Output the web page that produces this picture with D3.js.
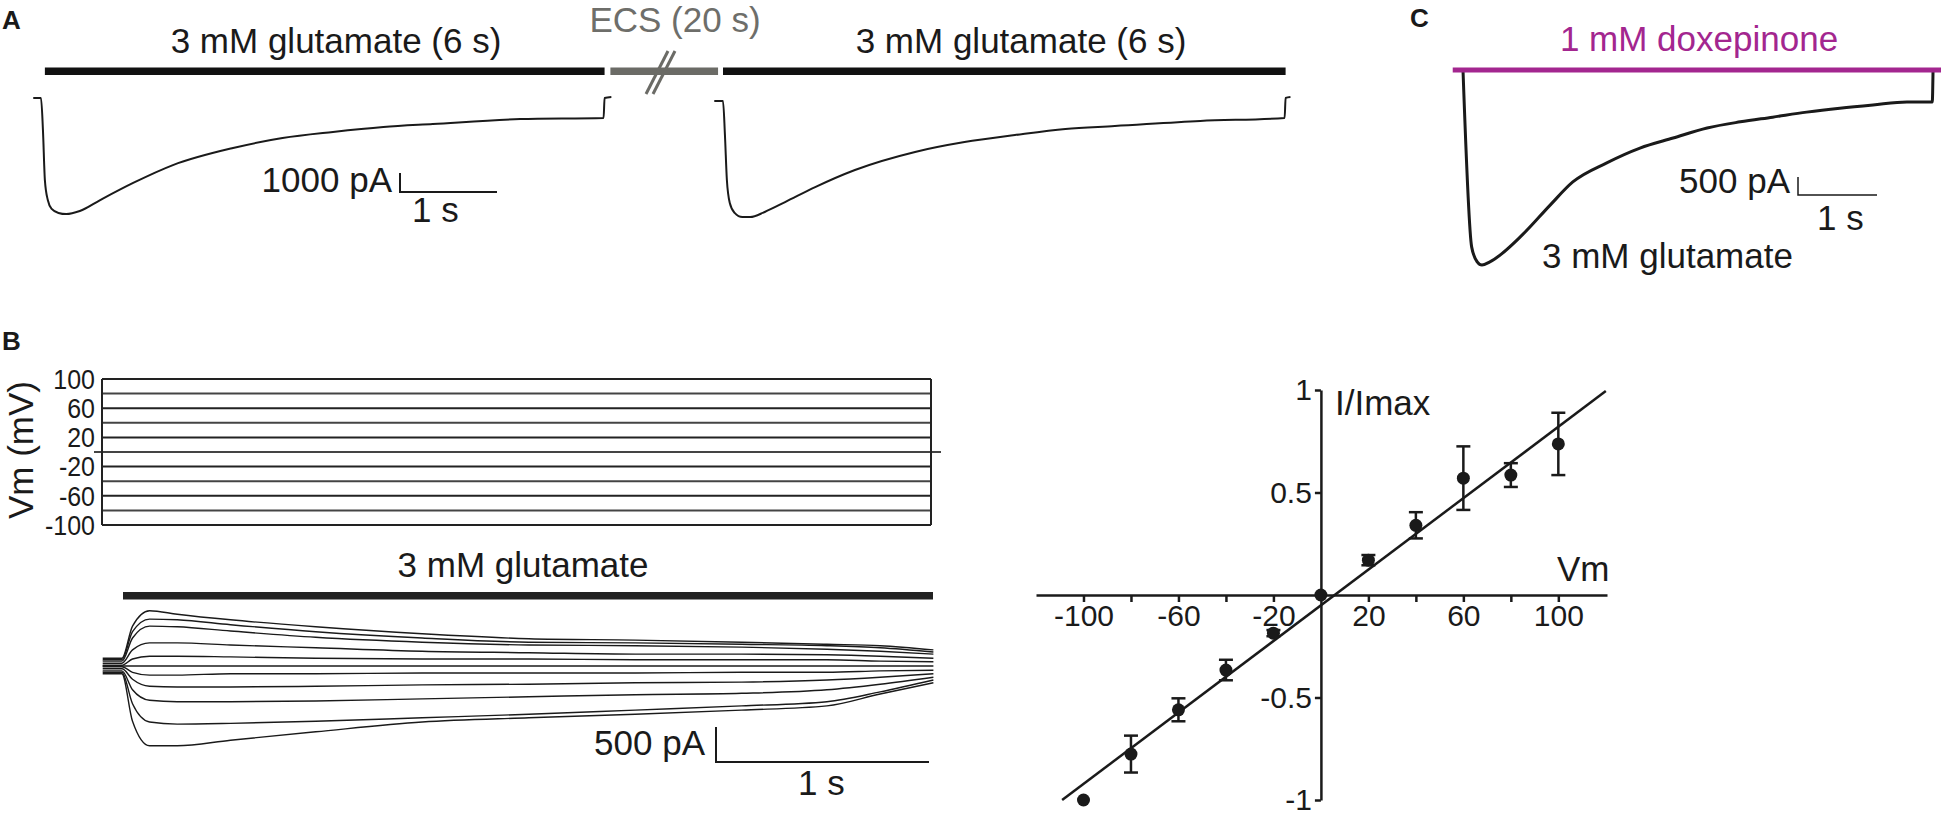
<!DOCTYPE html>
<html>
<head>
<meta charset="utf-8">
<script src="https://cdn.jsdelivr.net/npm/d3@7/dist/d3.min.js"></script>
<style>
body { margin: 0; background: #fff; }
text { font-family: "Liberation Sans", Arial, sans-serif; fill: #1a1a1a; }
</style>
</head>
<body>
<div id="chart"></div>
<script>
// ---- Panel A: two glutamate responses (time in s, current in pA)
const aTime1 = [-0.08, 0, 0.02, 0.04, 0.07, 0.11, 0.18, 0.26, 0.40, 0.61, 0.95, 1.36, 1.98, 2.49, 3.01, 3.53, 4.04, 4.94, 5.80, 5.81, 5.88];
const aCurrent1 = [0, 0, -1680, -4320, -5370, -5840, -6050, -6110, -5950, -5370, -4470, -3530, -2630, -2110, -1790, -1530, -1370, -1110, -1050, 0, 50];
const aTime2 = [-0.09, 0, 0.02, 0.04, 0.07, 0.12, 0.20, 0.28, 0.43, 0.64, 0.95, 1.36, 1.98, 2.49, 3.01, 3.53, 4.04, 4.92, 5.79, 5.80, 5.85];
const aCurrent2 = [0, 0, -1790, -4160, -5370, -5890, -6110, -6110, -5840, -5320, -4530, -3630, -2680, -2160, -1790, -1470, -1320, -1050, -890, 160, 210];

// ---- Panel C: glutamate vs doxepinone
const cTime = [0, 0.11, 0.18, 0.24, 0.34, 0.76, 1.10, 1.39, 1.82, 2.24, 2.66, 3.09, 3.51, 3.92, 4.35, 4.77, 5.19, 5.62, 5.94, 5.95];
const cCurrent = [0, -4920, -5330, -5420, -5330, -4560, -3760, -3110, -2580, -2170, -1890, -1610, -1440, -1310, -1170, -1060, -970, -890, -890, 0];
const doxTime = [-0.13, 6.08];
const doxCurrent = [0, 0];

// ---- Panel B: voltage steps and currents
const vSteps = [100, 80, 60, 40, 20, 0, -20, -40, -60, -80, -100];
const vLabels = [100, 60, 20, -20, -60, -100];
const bTime = [-0.1, -0.01, 0.04, 0.12, 0.25, 0.5, 0.9, 1.4, 1.9, 2.4, 2.9, 3.3, 3.55, 3.8];
const bSweeps = [
  [110, 110, 570, 790, 740, 660, 560, 460, 390, 370, 340, 310, 290, 230],
  [90, 90, 490, 670, 660, 590, 490, 400, 340, 330, 310, 290, 260, 200],
  [70, 70, 400, 570, 560, 500, 410, 340, 300, 290, 270, 240, 210, 170],
  [40, 40, 230, 330, 330, 300, 260, 210, 190, 170, 170, 160, 140, 110],
  [10, 10, 100, 140, 140, 130, 110, 100, 100, 90, 90, 90, 70, 60],
  [0, 0, 0, 0, 0, 0, 0, 0, 0, 0, 0, 0, 0, 0],
  [-10, -10, -90, -130, -130, -110, -110, -100, -100, -100, -90, -90, -70, -60],
  [-40, -40, -190, -290, -300, -300, -290, -270, -260, -240, -230, -200, -160, -110],
  [-70, -70, -340, -490, -510, -510, -500, -470, -440, -410, -390, -340, -260, -160],
  [-90, -90, -540, -800, -830, -820, -790, -740, -690, -630, -570, -510, -370, -200],
  [-110, -110, -790, -1140, -1140, -1060, -940, -800, -740, -690, -630, -570, -400, -240]
];

// ---- Panel B right: I-V relation
const ivVm = [-100, -80, -60, -40, -20, 0, 20, 40, 60, 80, 100];
const ivMean = [-1.0, -0.776, -0.56, -0.366, -0.186, 0, 0.17, 0.34, 0.57, 0.585, 0.737];
const ivSem = [0, 0.09, 0.056, 0.05, 0.015, 0, 0.025, 0.064, 0.155, 0.058, 0.152];
const fitVm = [-109, 120];
const fitI = [-1.0, 0.995];
const ivTicksX = [-100, -80, -60, -40, -20, 20, 40, 60, 80, 100];
const ivLabelsX = [-100, -60, -20, 20, 60, 100];
const ivTicksY = [-1, -0.5, 0.5, 1];

const svg = d3.select("#chart").append("svg")
    .attr("width", 1941)
    .attr("height", 819);

const ink = "#1a1a1a";
const curve = d3.curveMonotoneX;

function label(x, y, txt, size, anchor, color) {
    return svg.append("text")
        .attr("x", x).attr("y", y)
        .attr("font-size", size)
        .attr("text-anchor", anchor || "start")
        .style("fill", color || ink)
        .text(txt);
}

// panel letters
label(2, 29, "A", 26).attr("font-weight", "bold");
label(2, 350, "B", 26).attr("font-weight", "bold");
label(1410, 27, "C", 26).attr("font-weight", "bold");

// ================= Panel A =================
const xA1 = d3.scaleLinear().domain([0, 1]).range([41, 138]);
const yA1 = d3.scaleLinear().domain([-1000, 0]).range([117, 98]);
const xA2 = d3.scaleLinear().domain([0, 1]).range([723, 820]);
const yA2 = d3.scaleLinear().domain([-1000, 0]).range([120, 101]);

const lineA1 = d3.line().x((d, i) => xA1(aTime1[i])).y(d => yA1(d)).curve(curve);
const lineA2 = d3.line().x((d, i) => xA2(aTime2[i])).y(d => yA2(d)).curve(curve);

svg.append("path").attr("d", lineA1(aCurrent1))
   .attr("fill", "none").attr("stroke", ink).attr("stroke-width", 2);
svg.append("path").attr("d", lineA2(aCurrent2))
   .attr("fill", "none").attr("stroke", ink).attr("stroke-width", 2);

// application bars
const appBars = [
    {x0: xA1(0.04), x1: xA1(5.81), color: "#111"},
    {x0: xA1(5.87), x1: xA1(6.98), color: "#6b6b66"},
    {x0: xA2(0), x1: xA2(5.8), color: "#111"}
];
svg.selectAll("rect.app")
   .data(appBars)
   .enter()
   .append("rect")
   .attr("class", "app")
   .attr("x", d => d.x0)
   .attr("y", 67.5)
   .attr("width", d => d.x1 - d.x0)
   .attr("height", 7.5)
   .attr("fill", d => d.color);

// break marks on the ECS bar
[0, 7].forEach(dx => {
    svg.append("line")
       .attr("x1", 668 + dx).attr("y1", 51)
       .attr("x2", 646 + dx).attr("y2", 94)
       .attr("stroke", "#6b6b66").attr("stroke-width", 3);
});

label(336, 53, "3 mM glutamate (6 s)", 35, "middle");
label(1021, 53, "3 mM glutamate (6 s)", 35, "middle");
label(675, 32, "ECS (20 s)", 35, "middle", "#6e6e6a");

// scale bar A
const sbA = {x: 400, y: 192};
svg.append("path")
   .attr("d", `M${sbA.x},${sbA.y - (yA1(-1000) - yA1(0))}V${sbA.y}H${sbA.x + xA1(1) - xA1(0)}`)
   .attr("fill", "none").attr("stroke", ink).attr("stroke-width", 2);
label(392, 192, "1000 pA", 35, "end");
label(412, 222, "1 s", 35);

// ================= Panel C =================
const xC = d3.scaleLinear().domain([0, 1]).range([1463, 1542]);
const yC = d3.scaleLinear().domain([-500, 0]).range([88, 70]);

const lineC = d3.line().x((d, i) => xC(cTime[i])).y(d => yC(d)).curve(curve);
const lineDox = d3.line().x((d, i) => xC(doxTime[i])).y(d => yC(d));

svg.append("path").attr("d", lineC(cCurrent))
   .attr("fill", "none").attr("stroke", ink).attr("stroke-width", 3);
svg.append("path").attr("d", lineDox(doxCurrent))
   .attr("fill", "none").attr("stroke", "#a3268f").attr("stroke-width", 5);

label(1699, 51, "1 mM doxepinone", 35, "middle", "#a3268f");
label(1542, 268, "3 mM glutamate", 35);

const sbC = {x: 1798, y: 195};
svg.append("path")
   .attr("d", `M${sbC.x},${sbC.y - (yC(-500) - yC(0))}V${sbC.y}H${sbC.x + xC(1) - xC(0)}`)
   .attr("fill", "none").attr("stroke", ink).attr("stroke-width", 1.5);
label(1790, 193, "500 pA", 35, "end");
label(1817, 230, "1 s", 35);

// ================= Panel B: voltage protocol =================
const yV = d3.scaleLinear().domain([-100, 100]).range([525, 379]);
const protoX0 = 102, protoX1 = 931;

svg.selectAll("line.step")
   .data(vSteps)
   .enter()
   .append("line")
   .attr("class", "step")
   .attr("x1", d => d === 0 ? protoX0 - 8 : protoX0)
   .attr("x2", d => d === 0 ? protoX1 + 10 : protoX1)
   .attr("y1", d => yV(d))
   .attr("y2", d => yV(d))
   .attr("stroke", (d, i) => i % 2 ? "#444" : "#222")
   .attr("stroke-width", 2);
[protoX0, protoX1].forEach(x => {
    svg.append("line")
       .attr("x1", x).attr("x2", x)
       .attr("y1", yV(100)).attr("y2", yV(-100))
       .attr("stroke", "#222").attr("stroke-width", 2);
});
svg.selectAll("text.vlab")
   .data(vLabels)
   .enter()
   .append("text")
   .attr("class", "vlab")
   .attr("x", 95)
   .attr("y", d => yV(d) + 9)
   .attr("text-anchor", "end")
   .attr("font-size", 25)
   .attr("transform", d => `translate(95,${yV(d)}) scale(1,1.1) translate(-95,${-yV(d)})`)
   .text(d => d);
svg.append("text")
   .attr("transform", "translate(33,450) rotate(-90)")
   .attr("text-anchor", "middle")
   .attr("font-size", 35)
   .text("Vm (mV)");

// ================= Panel B: current traces =================
const xB = d3.scaleLinear().domain([0, 1]).range([124, 337]);
const yB = d3.scaleLinear().domain([-500, 0]).range([701, 666]);
const lineB = d3.line().x((d, i) => xB(bTime[i])).y(d => yB(d)).curve(curve);

svg.selectAll("path.sweep")
   .data(bSweeps)
   .enter()
   .append("path")
   .attr("class", "sweep")
   .attr("d", d => lineB(d))
   .attr("fill", "none")
   .attr("stroke", ink)
   .attr("stroke-width", 1.4);

svg.append("rect")
   .attr("x", 123).attr("y", 592)
   .attr("width", 933 - 123).attr("height", 7.5)
   .attr("fill", "#222");
label(523, 577, "3 mM glutamate", 35, "middle");

const sbB = {x: 716, y: 762};
svg.append("path")
   .attr("d", `M${sbB.x},${sbB.y - (yB(-500) - yB(0))}V${sbB.y}H${sbB.x + xB(1) - xB(0)}`)
   .attr("fill", "none").attr("stroke", ink).attr("stroke-width", 2);
label(705, 755, "500 pA", 35, "end");
label(798, 795, "1 s", 35);

// ================= Panel B: I-V plot =================
const xIV = d3.scaleLinear().domain([-120, 120.5]).range([1036, 1607]);
const yIV = d3.scaleLinear().domain([-1, 1]).range([800, 390]);

const gx = svg.append("g")
   .attr("transform", `translate(0,${yIV(0)})`)
   .call(d3.axisBottom(xIV)
       .tickValues(ivTicksX)
       .tickFormat(d => ivLabelsX.includes(d) ? String(d) : "")
       .tickSize(7)
       .tickSizeOuter(0));
const gy = svg.append("g")
   .attr("transform", `translate(${xIV(0)},0)`)
   .call(d3.axisLeft(yIV)
       .tickValues(ivTicksY)
       .tickFormat(d => String(d))
       .tickSize(6)
       .tickSizeOuter(0));
[gx, gy].forEach(g => {
    g.attr("font-family", null).attr("font-size", null);
    g.selectAll("path, line").attr("stroke", ink).attr("stroke-width", 2.5);
    g.selectAll("text").attr("font-size", 30).style("fill", ink);
});

// fit line
svg.append("path")
   .attr("d", d3.line().x((d, i) => xIV(fitVm[i])).y(d => yIV(d))(fitI))
   .attr("fill", "none").attr("stroke", ink).attr("stroke-width", 2.5);

// error bars
const ivData = ivVm.map((v, i) => ({v: v, m: ivMean[i], s: ivSem[i]})).filter(d => d.s > 0);
const eb = svg.selectAll("g.eb").data(ivData).enter().append("g").attr("class", "eb");
eb.append("line")
  .attr("x1", d => xIV(d.v)).attr("x2", d => xIV(d.v))
  .attr("y1", d => yIV(d.m - d.s)).attr("y2", d => yIV(d.m + d.s))
  .attr("stroke", ink).attr("stroke-width", 2.5);
[-1, 1].forEach(sign => {
    eb.append("line")
      .attr("x1", d => xIV(d.v) - 7).attr("x2", d => xIV(d.v) + 7)
      .attr("y1", d => yIV(d.m + sign * d.s)).attr("y2", d => yIV(d.m + sign * d.s))
      .attr("stroke", ink).attr("stroke-width", 2.5);
});

svg.selectAll("circle.iv")
   .data(ivVm)
   .enter()
   .append("circle")
   .attr("class", "iv")
   .attr("cx", d => xIV(d))
   .attr("cy", (d, i) => yIV(ivMean[i]))
   .attr("r", 6.5)
   .attr("fill", ink);

label(1335, 415, "I/Imax", 35);
label(1557, 581, "Vm", 35);
</script>
</body>
</html>
